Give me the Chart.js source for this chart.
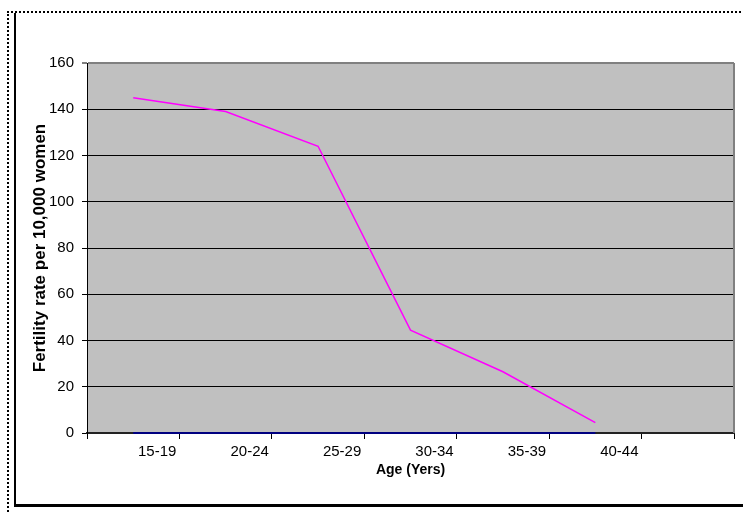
<!DOCTYPE html>
<html>
<head>
<meta charset="utf-8">
<script src="https://cdn.jsdelivr.net/npm/chart.js@4"></script>
<style>
  html, body { margin: 0; padding: 0; background: #fff; overflow: hidden; }
  #wrap { position: relative; width: 743px; height: 512px; }
  #dots { position: absolute; left: 7px; top: 11px; width: 740px; height: 510px;
          border-top: 2px dotted #000; border-left: 2px dotted #000; }
  #frame { position: absolute; left: 14px; top: 13px; width: 735px; height: 491px;
           border-left: 2px solid #000; border-bottom: 3px solid #000; }
  canvas { position: absolute; left: 0; top: 0; }
</style>
</head>
<body>
<div id="wrap">
  <div id="dots"></div>
  <div id="frame"></div>
  <canvas id="fertilityChart" width="743" height="512"></canvas>
</div>
<script>
// Data
const ageGroups = ['15-19', '20-24', '25-29', '30-34', '35-39', '40-44', ''];
const fertilityRate = [145, 139, 124, 44.5, 26.5, 4.5, null];
const baseline = [0, 0, 0, 0, 0, 0, null];
const yMin = 0;
const yMax = 160;
const yStep = 20;

const narrow = "'Liberation Sans Narrow', 'Arial Narrow', 'Liberation Sans', sans-serif";

// grey plot area + right border
const plotBg = {
  id: 'plotBg',
  beforeDraw(chart) {
    const { ctx, chartArea: a } = chart;
    ctx.save();
    ctx.fillStyle = '#c0c0c0';
    ctx.fillRect(a.left, a.top, a.right - a.left, a.bottom - a.top);
    ctx.restore();
  },
  beforeDatasetsDraw(chart) {
    const { ctx, chartArea: a } = chart;
    ctx.save();
    ctx.strokeStyle = '#808080';
    ctx.lineWidth = 2;
    ctx.beginPath();
    ctx.moveTo(a.right, a.top);
    ctx.lineTo(a.right, a.bottom);
    ctx.stroke();
    ctx.restore();
  }
};

const ctx = document.getElementById('fertilityChart');
new Chart(ctx, {
  type: 'line',
  data: {
    labels: ageGroups,
    datasets: [{
      label: 'Fertility rate',
      data: fertilityRate,
      borderColor: '#ff00ff',
      borderWidth: 1.5,
      pointRadius: 0,
      tension: 0
    }, {
      label: 'Baseline',
      data: baseline,
      borderColor: '#000080',
      borderWidth: 2,
      pointRadius: 0,
      clip: false
    }]
  },
  options: {
    responsive: false,
    animation: false,
    layout: { padding: { top: 63, right: 9, bottom: 0, left: 0 } },
    plugins: {
      legend: { display: false },
      tooltip: { enabled: false }
    },
    scales: {
      x: {
        offset: true,
        grid: { offset: true, drawOnChartArea: false, tickLength: 6, color: '#000' },
        border: { display: true, color: '#222', width: 2 },
        ticks: {
          color: '#000', padding: 4, labelOffset: 24, maxRotation: 0, autoSkip: false,
          font: { family: narrow, size: 15 }
        },
        title: {
          display: true, text: 'Age (Yers)', color: '#000',
          font: { family: "'Liberation Sans', Arial, sans-serif", size: 14, weight: 'bold' },
          padding: { top: 0, bottom: 33 }
        },
        afterFit: s => { s.height = 79; }
      },
      y: {
        min: yMin,
        max: yMax,
        grid: {
          color: c => (c.tick && c.tick.value === yMax) ? '#808080' : '#000',
          lineWidth: c => (c.tick && c.tick.value === yMax) ? 2 : 1,
          tickColor: '#000',
          tickWidth: 1,
          tickLength: 5
        },
        border: { display: true, color: '#000', width: 1 },
        ticks: {
          stepSize: yStep, color: '#000', padding: 8,
          font: { family: narrow, size: 15 }
        },
        title: {
          display: true, text: 'Fertility rate per 10,000 women', color: '#000',
          font: { family: "'Liberation Sans', Arial, sans-serif", size: 17, weight: 'bold' },
          padding: { top: 30, bottom: 0 }
        },
        afterFit: s => { s.width = 87; }
      }
    }
  },
  plugins: [plotBg]
});
</script>
</body>
</html>
